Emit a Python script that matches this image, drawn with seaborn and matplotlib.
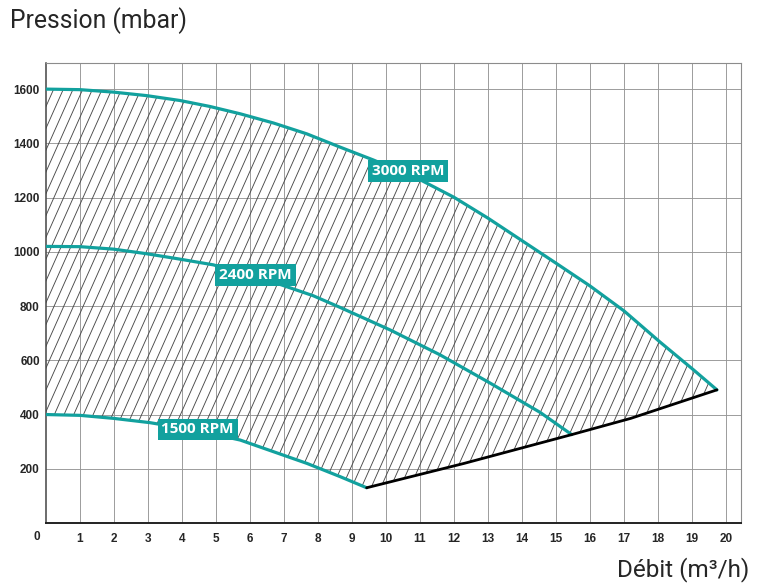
import matplotlib
matplotlib.use('Agg')
import matplotlib.pyplot as plt
from matplotlib.patches import Polygon
from matplotlib.collections import LineCollection
from matplotlib.ticker import MultipleLocator
import numpy as np
import pandas as pd
import seaborn as sns

# Courbes pression / debit
q_3000 = [0.0, 1.0, 1.98, 2.96, 3.94, 4.82, 5.71, 6.69, 7.67, 8.65, 9.62,
          11.0, 12.0, 13.0, 14.0, 15.0, 16.0, 17.0, 18.06, 19.04, 19.73]
p_3000 = [1600, 1598, 1589, 1576, 1558, 1536, 1509, 1475, 1435, 1386, 1339,
          1266, 1201, 1124, 1041, 958, 874, 782, 667, 565, 491]

q_2400 = [0.0, 1.0, 1.98, 2.96, 3.94, 4.92, 5.9, 6.88, 7.86, 8.65, 10.12,
          11.59, 13.06, 14.53, 15.46]
p_2400 = [1020, 1019, 1010, 993, 973, 952, 918, 880, 838, 795, 712,
          620, 516, 408, 326]

q_1500 = [0.0, 1.0, 1.98, 3.06, 4.4, 5.71, 6.69, 7.67, 8.65, 9.43]
p_1500 = [400, 397, 386, 370, 342, 306, 263, 220, 171, 130]

# limite basse (ligne noire)
q_lim = [9.43, 12.3, 15.46, 17.2, 19.73]
p_lim = [130, 220, 326, 386, 491]

labels = ['3000 RPM', '2400 RPM', '1500 RPM']
label_pos = [(10.65, 1299), (6.16, 915), (4.46, 345)]

x_ticks = list(range(1, 21))
y_ticks = list(range(200, 1601, 200))

teal = '#12a19e'

sns.set_style('white')
plt.rcParams['font.family'] = ['Liberation Sans', 'DejaVu Sans']

fig = plt.figure(figsize=(7.68, 5.87), dpi=100)
ax = fig.add_axes([0.0599, 0.109, 0.905, 0.784])
ax.set_xlim(0, 20.44)
ax.set_ylim(0, 1697)

# grille
ax.xaxis.set_minor_locator(MultipleLocator(0.5))
ax.yaxis.set_minor_locator(MultipleLocator(100))
ax.grid(True, which='major', color='#969696', linewidth=0.65)
ax.set_axisbelow(True)

# zone hachuree
zone = np.column_stack([
    np.concatenate([q_3000, q_lim[::-1], q_1500[::-1]]),
    np.concatenate([p_3000, p_lim[::-1], p_1500[::-1]]),
])
patch = Polygon(zone, closed=True, facecolor='none', edgecolor='none')
ax.add_patch(patch)

# hachures inclinees (texture)
w_px, h_px = 695.0, 460.0
step = 9.7 / w_px
dx = (h_px / np.tan(np.radians(66))) / w_px
starts = np.arange(-dx - step, 1.0 + step, step)
segs = [[(s, 0.0), (s + dx, 1.0)] for s in starts]
hatch = LineCollection(segs, colors='#4a4a4a', linewidths=0.65,
                       transform=ax.transAxes)
hatch.set_clip_path(patch)
ax.add_collection(hatch)

curves = pd.DataFrame({
    'q': q_3000 + q_2400 + q_1500,
    'p': p_3000 + p_2400 + p_1500,
    'rpm': ['3000'] * len(q_3000) + ['2400'] * len(q_2400) + ['1500'] * len(q_1500),
})
sns.lineplot(data=curves, x='q', y='p', units='rpm', estimator=None,
             sort=False, color=teal, linewidth=2.3, ax=ax, zorder=4)
sns.lineplot(x=q_lim, y=p_lim, sort=False, color='black', linewidth=2.0,
             ax=ax, zorder=4)

for txt, (x, y) in zip(labels, label_pos):
    ax.text(x, y, txt, ha='center', va='center', color='white',
            fontsize=11, fontweight='bold', family=['Open Sans', 'DejaVu Sans'],
            bbox=dict(boxstyle='square,pad=0.25', facecolor=teal, edgecolor='none'),
            zorder=5)

# axes et graduations
ax.set_xticks(x_ticks)
ax.set_xticklabels([str(i) for i in x_ticks])
ax.set_yticks(y_ticks)
ax.tick_params(axis='both', which='major', direction='inout', length=5,
               width=0.8, color='#333333', labelsize=8.5)
ax.tick_params(axis='both', which='minor', direction='inout', length=4,
               width=0.7, color='#555555')
ax.tick_params(axis='x', which='major', pad=5)
ax.tick_params(axis='y', which='major', pad=2)
for t in ax.get_xticklabels() + ax.get_yticklabels():
    t.set_fontweight('bold')

# "0" de l'origine
ax.annotate('0', xy=(0, 0), xytext=(-4.5, -6), textcoords='offset points',
            ha='right', va='top', fontsize=8.5, fontweight='bold',
            annotation_clip=False)

ax.set_xlabel('')
ax.set_ylabel('')
ax.spines['left'].set_color('#444444')
ax.spines['left'].set_linewidth(1.1)
ax.spines['bottom'].set_color('#222222')
ax.spines['bottom'].set_linewidth(1.4)
ax.spines['top'].set_color('#8c8c8c')
ax.spines['right'].set_color('#8c8c8c')
for s in ax.spines.values():
    s.set_visible(True)

fig.text(0.013, 0.952, 'Pression (mbar)', fontsize=17.8,
         family=['Roboto', 'DejaVu Sans'], ha='left', va='baseline')
fig.text(0.975, 0.018, 'Débit (m³/h)', fontsize=17.5,
         family=['Roboto', 'DejaVu Sans'], ha='right', va='baseline')

fig.savefig('out.png', dpi=100)
